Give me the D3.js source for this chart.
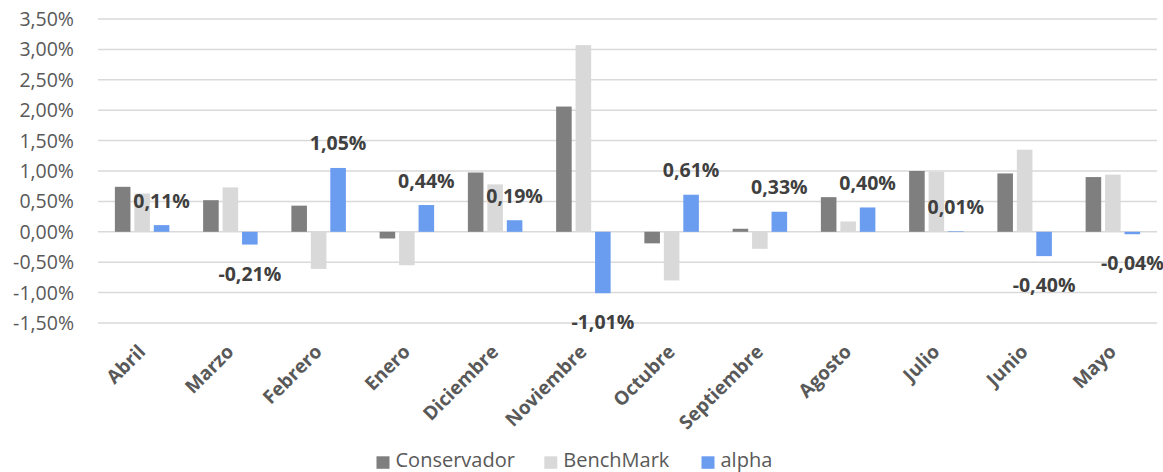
<!DOCTYPE html>
<html><head><meta charset="utf-8">
<script src="https://cdn.jsdelivr.net/npm/d3@7"></script>
<style>body{margin:0;background:#fff}svg{display:block}</style>
</head><body>
<svg id="c" width="1163" height="472"></svg>
<script>
const months = ["Abril","Marzo","Febrero","Enero","Diciembre","Noviembre","Octubre","Septiembre","Agosto","Julio","Junio","Mayo"];
const seriesNames = ["Conservador","BenchMark","alpha"];
const conservador = [0.74,0.52,0.43,-0.11,0.975,2.06,-0.19,0.05,0.57,1.00,0.96,0.90];
const benchmark = [0.63,0.73,-0.61,-0.55,0.78,3.07,-0.80,-0.28,0.17,0.985,1.35,0.94];
const alpha = [0.11,-0.21,1.05,0.44,0.19,-1.01,0.61,0.33,0.40,0.01,-0.40,-0.04];
const yTicks = [-1.5,-1.0,-0.5,0,0.5,1.0,1.5,2.0,2.5,3.0,3.5];
const colors = ["#7f7f7f","#d9d9d9","#6a9cf0"];

const svg = d3.select("#c");
const font = "'Open Sans', sans-serif";
const y = d3.scaleLinear().domain([-1.5,3.5]).range([323,19]);
const x = d3.scaleBand().domain(months).range([98,1157]).paddingInner(0.3824).paddingOuter(0.1912);
const xs = d3.scaleBand().domain(seriesNames).range([0,x.bandwidth()]).paddingInner(0.2).paddingOuter(0);
const fmt = v => (v<0?"-":"") + Math.abs(v).toFixed(2).replace(".",",") + "%";

// gridlines
svg.append("g").selectAll("line").data(yTicks).join("line")
  .attr("x1",98).attr("x2",1157).attr("y1",d=>y(d)).attr("y2",d=>y(d))
  .attr("stroke","#d9d9d9").attr("stroke-width",1.5);

// y tick labels
svg.append("g").selectAll("text").data(yTicks).join("text")
  .attr("x",74).attr("y",d=>y(d)+7).attr("text-anchor","end")
  .attr("font-family",font).attr("font-size",19.5).attr("fill","#595959")
  .text(d=>fmt(d));

const allSeries = [conservador, benchmark, alpha];
const bars = svg.append("g");
allSeries.forEach((vals,si)=>{
  bars.selectAll(null).data(months).join("rect")
    .attr("x",(m)=>x(m)+xs(seriesNames[si]))
    .attr("width",xs.bandwidth())
    .attr("y",(m,i)=>y(Math.max(0,vals[i])))
    .attr("height",(m,i)=>Math.abs(y(vals[i])-y(0)))
    .attr("fill",colors[si]);
});

// alpha labels
svg.append("g").selectAll("text").data(months).join("text")
  .attr("x",m=>x(m)+xs("alpha")+xs.bandwidth()/2)
  .attr("y",(m,i)=> alpha[i]>=0 ? y(alpha[i])-24.5+7 : y(alpha[i])+29+7)
  .attr("text-anchor","middle").attr("font-family",font).attr("font-weight","bold")
  .attr("font-size",19.5).attr("fill","#404040")
  .text((m,i)=>fmt(alpha[i]));

// x labels
svg.append("g").selectAll("text").data(months).join("text")
  .attr("transform",m=>`translate(${x(m)+x.bandwidth()/2+4.5},353) rotate(-45)`)
  .attr("text-anchor","end").attr("font-family",font).attr("font-weight","bold")
  .attr("font-size",19).attr("fill","#595959")
  .text(m=>m);

// legend
const legX = [376.5,544.3,701.5];
const lg = svg.append("g");
seriesNames.forEach((s,i)=>{
  lg.append("rect").attr("x",legX[i]).attr("y",456.3).attr("width",13).attr("height",12.5).attr("fill",colors[i]);
  lg.append("text").attr("x",legX[i]+19).attr("y",466.8).attr("font-family",font)
    .attr("font-size",20).attr("fill","#595959").text(s);
});
</script>
</body></html>
